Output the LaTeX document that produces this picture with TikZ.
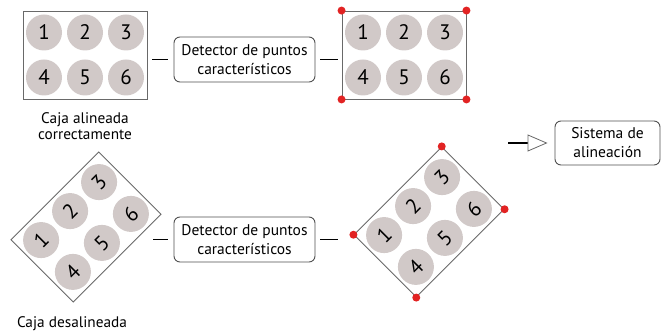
\documentclass[tikz,border=0pt]{standalone}
\usepackage{fontspec}
\setmainfont{PT Sans}
\usetikzlibrary{arrows.meta,calc}
\definecolor{disccol}{RGB}{209,201,200}
\definecolor{boxline}{RGB}{105,105,105}
\definecolor{detline}{RGB}{80,80,80}
\definecolor{dotred}{RGB}{226,35,35}
\begin{document}
\begin{tikzpicture}[x=1pt,y=1pt,
  disc/.style={circle, fill=disccol, minimum size=36pt, inner sep=0pt, font=\fontsize{21}{21}\selectfont},
  cajabox/.style={draw=boxline, line width=0.9pt, minimum width=124pt, minimum height=88pt, inner sep=0pt},
  detbox/.style={draw=detline, line width=0.9pt, rounded corners=6pt, minimum width=141pt, minimum height=45pt, align=center, inner sep=0pt, font=\fontsize{15.5}{19}\selectfont},
  conn/.style={line width=1.9pt, black},
  reddot/.style={circle, fill=dotred, minimum size=8pt, inner sep=0pt},
  caption/.style={align=center, inner sep=0pt, font=\fontsize{15.3}{15.5}\selectfont}]
\useasboundingbox (0,0) rectangle (662,-331);

% top left box
\node[cajabox] (caja1) at (85,-55) {};
\foreach \n/\dx/\dy in {1/-41/22.5, 2/0/22.5, 3/41/22.5, 4/-41/-22.5, 5/0/-22.5, 6/41/-22.5}
  \node[disc] (a\n) at ([shift={(\dx,\dy)}]caja1.center) {\n};
\node[caption] (cap1) at (85,-126) {Caja alineada\\correctamente};

% top detector
\node[detbox] (det1) at (244.5,-59.5) {Detector de puntos\\característicos};

% top right box
\node[cajabox] (caja2) at (404,-55) {};
\foreach \n/\dx/\dy in {1/-41/22.5, 2/0/22.5, 3/41/22.5, 4/-41/-22.5, 5/0/-22.5, 6/41/-22.5}
  \node[disc] (b\n) at ([shift={(\dx,\dy)}]caja2.center) {\n};
\foreach \c in {north west, north east, south west, south east}
  \node[reddot] at (caja2.\c) {};

% bottom left rotated box
\begin{scope}[shift={(86,-227)}, rotate=45, transform shape]
\node[cajabox] (caja3) at (0,0) {};
\foreach \n/\dx/\dy in {1/-41/22.5, 2/0/22.5, 3/41/22.5, 4/-41/-22.5, 5/0/-22.5, 6/41/-22.5}
  \node[disc] (c\n) at (\dx,\dy) {\n};
\end{scope}
\node[caption] (cap3) at (72,-324) {Caja desalineada};

% bottom detector
\node[detbox] (det2) at (244.5,-239.5) {Detector de puntos\\característicos};

% bottom right rotated box
\begin{scope}[shift={(429,-222)}, rotate=45, transform shape]
\node[cajabox] (caja4) at (0,0) {};
\foreach \n/\dx/\dy in {1/-41/22.5, 2/0/22.5, 3/41/22.5, 4/-41/-22.5, 5/0/-22.5, 6/41/-22.5}
  \node[disc] (d\n) at (\dx,\dy) {\n};
\end{scope}
\foreach \c in {north west, north east, south west, south east}
  \node[reddot] at (caja4.\c) {};

% alignment system
\node[detbox, minimum width=105pt, minimum height=44pt] (sis) at (607.5,-143) {Sistema de\\alineación};

% connectors
\draw[conn, shorten <=5pt, shorten >=6pt] (caja1.east |- det1.west) -- (det1.west);
\draw[conn, shorten <=5pt, shorten >=4pt] (det1.east) -- (det1.east -| caja2.west);
\coordinate (c3s) at (153,-239.5);
\draw[conn, shorten >=6pt] (c3s) -- (det2.west);
\coordinate (c4e) at (338,-239.5);
\draw[conn, shorten <=5pt] (det2.east) -- (c4e);
\coordinate (arrs) at (508,-143);
\draw[conn, shorten >=7pt, -{Triangle[length=20pt, width=17pt, line width=0.8pt, color=boxline, fill=white]}] (arrs) -- (sis.west);
\end{tikzpicture}
\end{document}
